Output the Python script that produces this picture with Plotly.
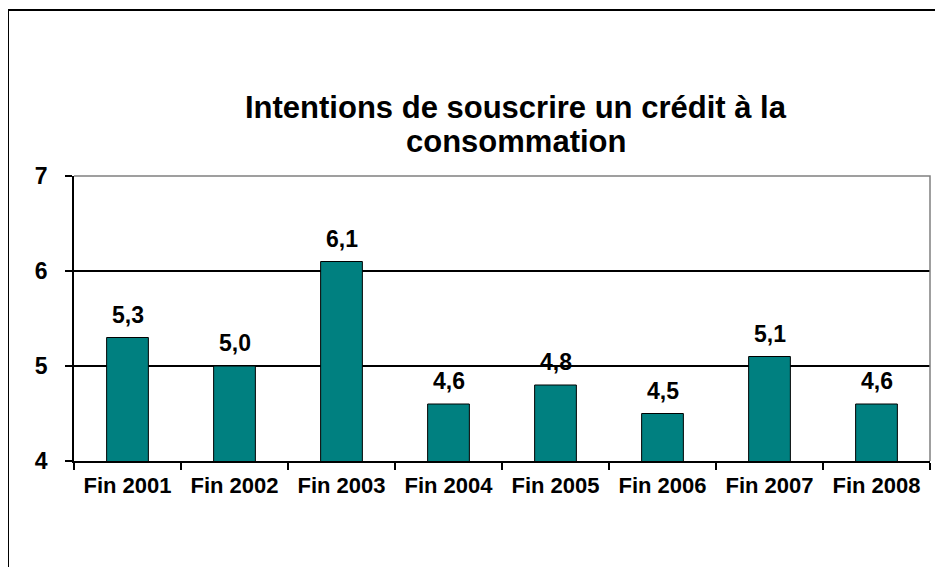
import plotly.graph_objects as go

categories = ["Fin 2001", "Fin 2002", "Fin 2003", "Fin 2004", "Fin 2005", "Fin 2006", "Fin 2007", "Fin 2008"]
values = [5.3, 5.0, 6.1, 4.6, 4.8, 4.5, 5.1, 4.6]
labels = [f"{v:.1f}".replace(".", ",") for v in values]
title_lines = ["Intentions de souscrire un crédit à la", "consommation"]

FONT = "Arial, 'Liberation Sans', sans-serif"

fig = go.Figure(go.Bar(
    x=categories, y=values,
    marker=dict(color="#008080", line=dict(color="black", width=1)),
    width=0.39,
))

for c, v, t in zip(categories, values, labels):
    fig.add_annotation(x=c, y=v, text=t, showarrow=False,
                       yanchor="middle", yshift=23,
                       font=dict(family=FONT, size=23, color="black", weight="bold"))

for line, ypos in zip(title_lines, [1.2386, 1.1193]):
    fig.add_annotation(xref="paper", yref="paper", x=0.516, y=ypos,
                       text=line, showarrow=False,
                       xanchor="center", yanchor="middle",
                       font=dict(family=FONT, size=31, color="black", weight="bold"))

# outer chart frame
fig.add_shape(type="rect", xref="paper", yref="paper",
              x0=-0.0771, x1=1.3, y0=-0.6, y1=1.5825,
              line=dict(color="black", width=2), layer="below")
# plot area border (top/right, gray)
fig.add_shape(type="path", xref="paper", yref="paper",
              path="M 0,1 L 1,1 L 1,0", line=dict(color="#808080", width=1.5),
              layer="above")

fig.update_layout(
    width=935, height=559,
    margin=dict(l=66, r=13, t=168, b=106),
    paper_bgcolor="white", plot_bgcolor="white",
    showlegend=False,
    font=dict(family=FONT, color="black"),
)
fig.update_xaxes(
    type="category", tickson="boundaries", ticks="outside", ticklen=7,
    tickcolor="black", tickwidth=1.5, showline=True, linecolor="black", linewidth=1.5,
    showgrid=False, tickfont=dict(family=FONT, size=22, color="black", weight="bold"),
    ticklabelstandoff=4,
)
fig.update_yaxes(
    range=[4, 7], dtick=1, ticks="outside", ticklen=7, tickcolor="black", tickwidth=1.5,
    showline=True, linecolor="black", linewidth=1.5,
    showgrid=True, gridcolor="black", gridwidth=1.5, zeroline=False,
    tickfont=dict(family=FONT, size=23, color="black", weight="bold"),
    ticklabelstandoff=13,
)

fig.write_html("out.html")
